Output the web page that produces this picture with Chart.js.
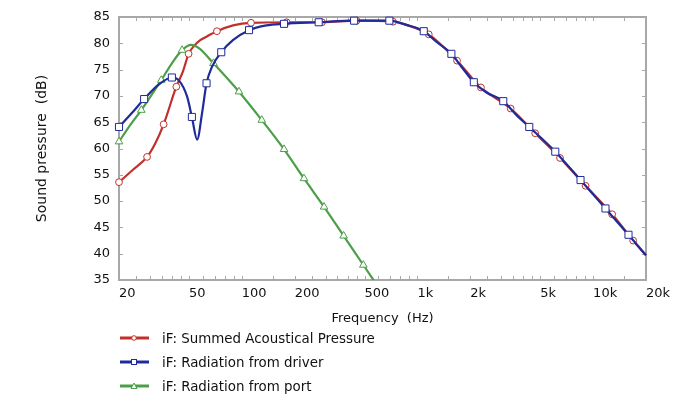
<!DOCTYPE html>
<html><head><meta charset="utf-8">
<script src="https://cdn.jsdelivr.net/npm/chart.js@4.4.1/dist/chart.umd.min.js"></script>
<style>
html,body{margin:0;padding:0;background:#fff;}
#wrap{position:relative;width:690px;height:397px;overflow:hidden;}
canvas{display:block;}
.item{position:absolute;left:120px;height:20px;display:flex;align-items:center;white-space:nowrap;font-family:"DejaVu Sans",Verdana,sans-serif;font-size:13.4px;color:#111;}
.item svg{margin-right:13px;}
</style></head><body>
<div id="wrap"><canvas id="c" width="690" height="397"></canvas><div id="legend"></div></div>
<script>
// ---- data ----
const seriesNames = ["iF: Summed Acoustical Pressure", "iF: Radiation from driver", "iF: Radiation from port"];

const summedHz = [20, 24.1, 28.9, 32.2, 35.9, 42.4, 46.2, 49.8, 53.5, 58, 63.2, 72.2, 89.2, 112.8, 180, 286, 450, 726, 866, 1160, 1680, 2298, 3393, 4680, 6480, 9060, 12830, 16900, 20000];
const summedDb = [53.6, 56.0, 58.4, 61.0, 64.6, 71.75, 74.6, 78.0, 79.5, 80.6, 81.3, 82.3, 83.4, 83.9, 84.0, 84.0, 84.3, 84.1, 83.5, 81.7, 76.7, 71.6, 67.6, 62.9, 58.2, 52.9, 47.5, 42.5, 39.7];
const summedMarkerHz = [20, 28.9, 35.9, 42.4, 49.8, 72.2, 112.8, 180, 286, 450, 726, 1160, 1680, 2298, 3393, 4680, 6480, 9060, 12830, 16900];

const driverHz = [20, 23.6, 27.8, 33.5, 40.0, 43.7, 48.8, 52.0, 55.7, 59.4, 63.0, 67.6, 76.4, 89, 110, 138, 174, 274, 436, 692, 866, 1086, 1286, 1560, 1784, 2094, 2460, 3080, 3674, 4330, 6090, 8480, 11760, 15900, 20000];
const driverDb = [64.1, 66.7, 69.4, 72.1, 73.5, 73.0, 69.9, 66.0, 61.7, 66.7, 72.4, 75.5, 78.3, 80.6, 82.5, 83.4, 83.7, 84.0, 84.3, 84.3, 83.5, 82.3, 80.25, 78.0, 75.5, 72.6, 70.7, 69.0, 66.3, 64.1, 59.4, 54.0, 48.6, 43.6, 39.7];
const driverMarkerHz = [20, 27.8, 40.0, 52.0, 63.0, 76.4, 110, 174, 274, 436, 692, 1086, 1560, 2094, 3080, 4330, 6090, 8480, 11760, 15900];

const portHz = [20, 23.2, 26.8, 34.8, 40, 45.7, 51.4, 57, 69, 96.4, 130, 174, 226, 294, 380, 492, 600];
const portDb = [61.3, 64.5, 67.3, 73.0, 76.2, 78.7, 79.7, 79.1, 76.2, 70.8, 65.4, 59.85, 54.3, 48.9, 43.4, 37.85, 33.6];
const portMarkerHz = [20, 26.8, 34.8, 45.7, 69, 96.4, 130, 174, 226, 294, 380, 492];

const xTickHz = [20, 50, 100, 200, 500, 1000, 2000, 5000, 10000, 20000];
const xTickLabels = ["20", "50", "100", "200", "500", "1k", "2k", "5k", "10k", "20k"];
const xMinorMult = [1, 1.5, 2, 2.5, 3, 3.5, 4, 4.5, 5, 6, 7, 8, 9];
const xDecades = [10, 100, 1000, 10000];

// ---- styling ----
const colors = ["#c1302b", "#1f2b9b", "#4c9e48"];
const styles = ["circle", "rect", "triangle"];
const radii = [3.4, 5, 4.4];

function pts(hz, db) { return hz.map((x, i) => ({x, y: db[i]})); }
function radiusFor(markers, r) {
  return ctx => (ctx.raw && markers.includes(ctx.raw.x)) ? r : 0;
}
function ds(i, hz, db, markers, order) {
  return {
    label: seriesNames[i],
    data: pts(hz, db),
    borderColor: colors[i],
    borderWidth: 2.2,
    backgroundColor: "#ffffff",
    pointBackgroundColor: "#ffffff",
    pointBorderColor: colors[i],
    pointBorderWidth: 1,
    pointStyle: styles[i],
    pointRadius: radiusFor(markers, radii[i]),
    pointHoverRadius: radiusFor(markers, radii[i]),
    cubicInterpolationMode: "monotone",
    clip: {left: 10, right: 10, top: 10, bottom: 0},
    order: order
  };
}

const framePlugin = {
  id: "frame",
  beforeDatasetsDraw(chart) {
    const {ctx, chartArea: a, scales: {x, y}} = chart;
    ctx.save();
    ctx.strokeStyle = "#a8a8a8";
    ctx.lineWidth = 1;
    ctx.beginPath();
    xDecades.forEach(d => xMinorMult.forEach(m => {
      const v = d * m;
      if (v <= 20 || v >= 20000) return;
      const px = Math.round(x.getPixelForValue(v)) + 0.5;
      ctx.moveTo(px, a.bottom); ctx.lineTo(px, a.bottom - 4);
      ctx.moveTo(px, a.top); ctx.lineTo(px, a.top + 4);
    }));
    y.ticks.forEach(t => {
      const py = Math.round(y.getPixelForValue(t.value)) + 0.5;
      ctx.moveTo(a.left, py); ctx.lineTo(a.left + 4, py);
      ctx.moveTo(a.right, py); ctx.lineTo(a.right - 4, py);
    });
    ctx.stroke();
    ctx.lineWidth = 2;
    ctx.strokeRect(a.left, a.top, a.right - a.left, a.bottom - a.top);
    ctx.restore();
  }
};

const font = {family: "'DejaVu Sans', Verdana, sans-serif", size: 13};
const yTitleFont = {family: "'DejaVu Sans', Verdana, sans-serif", size: 14};

new Chart(document.getElementById("c"), {
  type: "line",
  data: {
    datasets: [
      ds(0, summedHz, summedDb, summedMarkerHz, 3),
      ds(1, driverHz, driverDb, driverMarkerHz, 1),
      ds(2, portHz, portDb, portMarkerHz, 2)
    ]
  },
  options: {
    responsive: false,
    animation: false,
    devicePixelRatio: 1,
    layout: {padding: {left: 30, right: 44, top: 17, bottom: 67}},
    plugins: {legend: {display: false}, tooltip: {enabled: false}},
    scales: {
      x: {
        type: "logarithmic",
        min: 20, max: 20000,
        grid: {display: false, drawTicks: false},
        border: {display: false},
        afterBuildTicks: s => { s.ticks = xTickHz.map(v => ({value: v})); },
        afterFit: s => { s.height = 50; },
        ticks: {
          autoSkip: false, maxRotation: 0, minRotation: 0, align: "start",
          padding: 6, color: "#111", font: font,
          callback: (v, i) => xTickLabels[i]
        },
        title: {display: true, text: "Frequency  (Hz)", color: "#111", font: font, padding: 4}
      },
      y: {
        type: "linear",
        min: 35, max: 85,
        grid: {display: false, drawTicks: false},
        border: {display: false},
        afterFit: s => { s.width = 89; },
        ticks: {stepSize: 5, padding: 9, color: "#111", font: font},
        title: {display: true, text: "Sound pressure  (dB)", color: "#111", font: yTitleFont, padding: 4}
      }
    }
  },
  plugins: [framePlugin]
});

// ---- legend (HTML text) ----
const legendY = [338, 362, 386];
const legend = document.getElementById("legend");
seriesNames.forEach((name, i) => {
  const c = colors[i];
  let marker;
  if (i === 0) marker = `<circle cx="14" cy="5" r="2.3" fill="#fff" stroke="${c}" stroke-width="1"/>`;
  else if (i === 1) marker = `<rect x="11.5" y="2.5" width="5" height="5" fill="#fff" stroke="${c}" stroke-width="1"/>`;
  else marker = `<polygon points="14,2 17,7.5 11,7.5" fill="#fff" stroke="${c}" stroke-width="1"/>`;
  const div = document.createElement("div");
  div.className = "item";
  div.style.top = (legendY[i] - 10) + "px";
  div.innerHTML = `<svg width="29" height="10"><line x1="0" y1="5" x2="29" y2="5" stroke="${c}" stroke-width="3"/>${marker}</svg><span>${name}</span>`;
  legend.appendChild(div);
});
</script>
</body></html>
